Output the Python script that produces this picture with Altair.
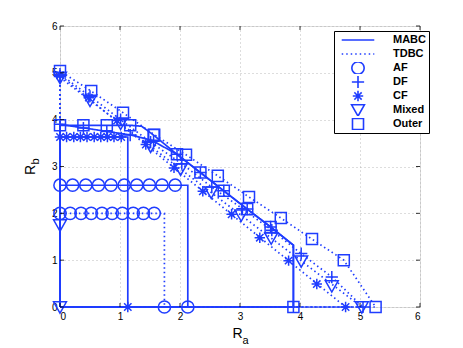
import altair as alt
import pandas as pd

BLUE = "#1f3dff"
FONT = "Liberation Sans"

TICKS = [0, 1, 2, 3, 4, 5, 6]
LEGEND_ITEMS = ["MABC", "TDBC", "AF", "DF", "CF", "Mixed", "Outer"]

# ---- region outlines (MABC = solid, TDBC = dotted) ----
AF_MABC_X = [0, 0, 2.13, 2.13, 0]
AF_MABC_Y = [0, 2.60, 2.60, 0, 0]
AF_TDBC_X = [0, 0, 1.74, 1.74, 0]
AF_TDBC_Y = [0, 2.00, 2.00, 0, 0]
CF_MABC_X = [0, 0, 1.13, 1.13, 0]
CF_MABC_Y = [0, 3.63, 3.63, 0, 0]
DF_MABC_X = [0, 0, 1.19, 1.53, 1.95, 2.34, 2.73, 3.12, 3.51, 3.89, 3.89, 0]
DF_MABC_Y = [0, 3.90, 3.67, 3.56, 3.26, 2.87, 2.48, 2.09, 1.71, 1.32, 0, 0]
MIXED_MABC_X = [0, 0]
MIXED_MABC_Y = [0, 1.75]
OUTER_MABC_X = [0, 0, 1.17, 1.36, 1.56, 1.95, 2.34, 2.73, 3.12, 3.51, 3.89, 3.89, 0]
OUTER_MABC_Y = [0, 3.88, 3.88, 3.86, 3.67, 3.26, 2.87, 2.48, 2.09, 1.71, 1.32, 0, 0]
CF_TDBC_X = [0, 0, 4.76, 0]
CF_TDBC_Y = [0, 4.95, 0, 0]
DF_TDBC_X = [0, 0, 0.50, 1.01, 1.51, 2.03, 2.53, 3.04, 3.53, 4.02, 4.53, 5.05, 0]
DF_TDBC_Y = [0, 4.97, 4.50, 4.00, 3.52, 3.06, 2.56, 2.10, 1.64, 1.14, 0.64, 0, 0]
MIXED_TDBC_X = [0, 0, 5.03, 0]
MIXED_TDBC_Y = [0, 4.90, 0, 0]
OUTER_TDBC_X = [0, 0, 0.52, 1.05, 1.57, 2.10, 2.63, 3.15, 3.68, 4.20, 4.73, 5.26, 0]
OUTER_TDBC_Y = [0, 5.04, 4.61, 4.15, 3.68, 3.25, 2.80, 2.35, 1.90, 1.45, 1.00, 0, 0]

# ---- marker positions ----
AF_MABC_MX = [0, 0.21, 0.43, 0.64, 0.85, 1.07, 1.28, 1.49, 1.70, 1.92, 2.13]
AF_MABC_MY = [2.60, 2.60, 2.60, 2.60, 2.60, 2.60, 2.60, 2.60, 2.60, 2.60, 0]
AF_TDBC_MX = [0, 0.17, 0.35, 0.52, 0.70, 0.87, 1.04, 1.22, 1.39, 1.57, 1.74]
AF_TDBC_MY = [2.00, 2.00, 2.00, 2.00, 2.00, 2.00, 2.00, 2.00, 2.00, 2.00, 0]
CF_MABC_MX = [0, 0.11, 0.23, 0.34, 0.45, 0.57, 0.68, 0.79, 0.90, 1.02, 1.13]
CF_MABC_MY = [3.63, 3.63, 3.63, 3.63, 3.63, 3.63, 3.63, 3.63, 3.63, 3.63, 0]
CF_TDBC_MX = [0, 0.48, 0.95, 1.43, 1.90, 2.38, 2.86, 3.33, 3.81, 4.28, 4.76]
CF_TDBC_MY = [4.95, 4.47, 3.98, 3.47, 2.97, 2.47, 1.98, 1.48, 0.99, 0.49, 0]
DF_MABC_MX = [0, 0.39, 0.78, 1.17, 1.56, 1.95, 2.34, 2.73, 3.12, 3.51, 3.89]
DF_MABC_MY = [3.90, 3.82, 3.75, 3.67, 3.54, 3.26, 2.87, 2.48, 2.09, 1.71, 0]
DF_TDBC_MX = [0, 0.50, 1.01, 1.51, 2.03, 2.53, 3.04, 3.53, 4.02, 4.53, 5.05]
DF_TDBC_MY = [4.97, 4.50, 4.00, 3.52, 3.06, 2.56, 2.10, 1.64, 1.14, 0.64, 0]
MIXED_MABC_MX = [0, 0]
MIXED_MABC_MY = [1.75, 0]
MIXED_TDBC_MX = [0, 0.50, 1.01, 1.51, 2.01, 2.52, 3.02, 3.52, 4.02, 4.53, 5.03]
MIXED_TDBC_MY = [4.90, 4.41, 3.92, 3.43, 2.94, 2.45, 1.96, 1.47, 0.98, 0.45, 0]
OUTER_MABC_MX = [0, 0.39, 0.78, 1.17, 1.56, 1.95, 2.34, 2.73, 3.12, 3.51, 3.89]
OUTER_MABC_MY = [3.88, 3.88, 3.88, 3.88, 3.67, 3.26, 2.87, 2.48, 2.09, 1.71, 0]
OUTER_TDBC_MX = [0, 0.52, 1.05, 1.57, 2.10, 2.63, 3.15, 3.68, 4.20, 4.73, 5.26]
OUTER_TDBC_MY = [5.04, 4.61, 4.15, 3.68, 3.25, 2.80, 2.35, 1.90, 1.45, 1.00, 0]

LINES = [
    ("AF", "MABC", AF_MABC_X, AF_MABC_Y),
    ("AF", "TDBC", AF_TDBC_X, AF_TDBC_Y),
    ("CF", "MABC", CF_MABC_X, CF_MABC_Y),
    ("CF", "TDBC", CF_TDBC_X, CF_TDBC_Y),
    ("DF", "MABC", DF_MABC_X, DF_MABC_Y),
    ("DF", "TDBC", DF_TDBC_X, DF_TDBC_Y),
    ("Mixed", "MABC", MIXED_MABC_X, MIXED_MABC_Y),
    ("Mixed", "TDBC", MIXED_TDBC_X, MIXED_TDBC_Y),
    ("Outer", "MABC", OUTER_MABC_X, OUTER_MABC_Y),
    ("Outer", "TDBC", OUTER_TDBC_X, OUTER_TDBC_Y),
]
MARKERS = [
    ("AF", "MABC", AF_MABC_MX, AF_MABC_MY),
    ("AF", "TDBC", AF_TDBC_MX, AF_TDBC_MY),
    ("CF", "MABC", CF_MABC_MX, CF_MABC_MY),
    ("CF", "TDBC", CF_TDBC_MX, CF_TDBC_MY),
    ("DF", "MABC", DF_MABC_MX, DF_MABC_MY),
    ("DF", "TDBC", DF_TDBC_MX, DF_TDBC_MY),
    ("Mixed", "MABC", MIXED_MABC_MX, MIXED_MABC_MY),
    ("Mixed", "TDBC", MIXED_TDBC_MX, MIXED_TDBC_MY),
    ("Outer", "MABC", OUTER_MABC_MX, OUTER_MABC_MY),
    ("Outer", "TDBC", OUTER_TDBC_MX, OUTER_TDBC_MY),
]

line_rows = []
for relay, scheme, xs_, ys_ in LINES:
    for i, (xv, yv) in enumerate(zip(xs_, ys_)):
        line_rows.append({"series": relay + "-" + scheme, "scheme": scheme,
                          "i": i, "x": xv, "y": yv})
line_df = pd.DataFrame(line_rows)

point_rows = []
for relay, scheme, xs_, ys_ in MARKERS:
    for xv, yv in zip(xs_, ys_):
        point_rows.append({"relay": relay, "scheme": scheme, "x": xv, "y": yv})
point_df = pd.DataFrame(point_rows)

HLINE = "M-2.66,0L2.66,0"
SHAPES = [
    HLINE, HLINE, "circle",
    "M-1,0L1,0M0,-1L0,1",
    "M0,-0.85L0,0.85M-0.85,0L0.85,0M-0.6,-0.6L0.6,0.6M-0.6,0.6L0.6,-0.6",
    "M-1.05,-0.85L1.05,-0.85L0,1.0Z",
    "M-0.9,-0.9L0.9,-0.9L0.9,0.9L-0.9,0.9Z",
]
DASHES = [[1, 0], [1.5, 3], [1, 0], [1, 0], [1, 0], [1, 0], [1, 0]]

W, H = 360, 281
xs = alt.Scale(domain=[0, 6], nice=False, zero=False)
ys = alt.Scale(domain=[0, 6], nice=False, zero=False)

legend = alt.Legend(
    title=None, orient="none", legendX=274, legendY=5, padding=3,
    clipHeight=12, rowPadding=2, symbolOffset=14, labelOffset=28,
    symbolSize=150, symbolStrokeWidth=1.6, symbolStrokeColor=BLUE,
    symbolFillColor="transparent",
    labelFont=FONT, labelFontWeight="bold", labelFontSize=11, labelColor="black",
    strokeColor="black", fillColor="white",
)

x_axis = alt.Axis(values=TICKS, title=None, grid=True, ticks=False, domain=False,
                  labelFont=FONT, labelFontSize=10, labelColor="black", labelPadding=4,
                  gridDash=[1, 3], gridColor="#a8a8a8", gridWidth=0.8, format="d")
y_axis = alt.Axis(values=TICKS, title=None, grid=True, ticks=False, domain=False,
                  labelFont=FONT, labelFontSize=10, labelColor="black", labelPadding=3,
                  gridDash=[1, 3], gridColor="#a8a8a8", gridWidth=0.8, format="d")

lines = alt.Chart(line_df).mark_line(color=BLUE, strokeWidth=1.7).encode(
    x=alt.X("x:Q", scale=xs, axis=x_axis),
    y=alt.Y("y:Q", scale=ys, axis=y_axis),
    detail="series:N",
    order="i:Q",
    strokeDash=alt.StrokeDash("scheme:N", scale=alt.Scale(domain=LEGEND_ITEMS, range=DASHES),
                              legend=legend),
)

points = alt.Chart(point_df).mark_point(filled=False, color=BLUE, size=150,
                                        strokeWidth=1.5, opacity=1).encode(
    x=alt.X("x:Q", scale=xs, axis=x_axis),
    y=alt.Y("y:Q", scale=ys, axis=y_axis),
    shape=alt.Shape("relay:N", scale=alt.Scale(domain=LEGEND_ITEMS, range=SHAPES),
                    legend=legend),
)

tick_df = pd.DataFrame({"t": TICKS})
TL = 4
tick_b = alt.Chart(tick_df).mark_rule(color="black", strokeWidth=0.8).encode(
    x=alt.X("t:Q", scale=xs, axis=x_axis), y=alt.value(H), y2=alt.value(H - TL))
tick_t = alt.Chart(tick_df).mark_rule(color="black", strokeWidth=0.8).encode(
    x=alt.X("t:Q", scale=xs, axis=x_axis), y=alt.value(0), y2=alt.value(TL))
tick_l = alt.Chart(tick_df).mark_rule(color="black", strokeWidth=0.8).encode(
    y=alt.Y("t:Q", scale=ys, axis=y_axis), x=alt.value(0), x2=alt.value(TL))
tick_r = alt.Chart(tick_df).mark_rule(color="black", strokeWidth=0.8).encode(
    y=alt.Y("t:Q", scale=ys, axis=y_axis), x=alt.value(W), x2=alt.value(W - TL))

XT_MAIN = ["R"]
XT_SUB = ["a"]
YT_MAIN = ["R"]
YT_SUB = ["b"]


def label(txt, x, y, size, angle=0):
    return alt.Chart(pd.DataFrame({"s": txt})).mark_text(
        font=FONT, fontSize=size, color="black", align="left",
        baseline="alphabetic", angle=angle,
    ).encode(text="s:N", x=alt.value(x), y=alt.value(y))


titles = [
    label(XT_MAIN, 172.5, 311.5, 14),
    label(XT_SUB, 182.5, 318, 11),
    label(YT_MAIN, -25, 149, 14, 270),
    label(YT_SUB, -21, 138.5, 11, 270),
]

chart = alt.layer(lines, points, tick_b, tick_t, tick_l, tick_r, *titles).properties(
    width=W, height=H,
    autosize=alt.AutoSizeParams(type="none"),
    padding={"left": 52, "top": 18, "right": 30, "bottom": 40},
).configure_view(stroke="black", strokeWidth=1).configure(background="white")

chart.save("out.html", embed_options={"renderer": "svg", "actions": False})
